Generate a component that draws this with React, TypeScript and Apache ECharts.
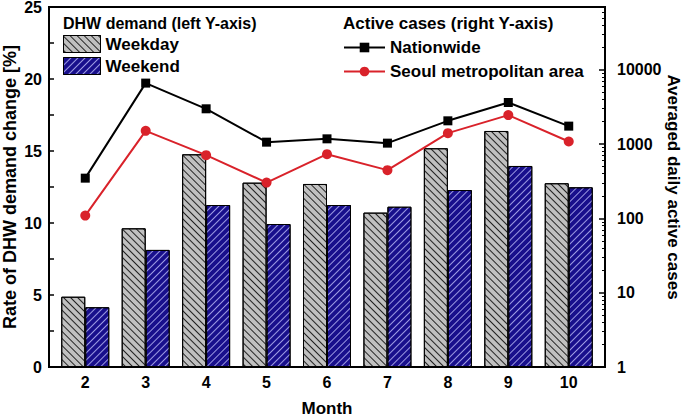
import React, { useEffect, useRef } from "react";
import * as echarts from "echarts";

const months = [2, 3, 4, 5, 6, 7, 8, 9, 10];
const weekday = [4.88, 9.63, 14.77, 12.8, 12.71, 10.72, 15.19, 16.39, 12.76];
const weekend = [4.15, 8.13, 11.25, 9.93, 11.25, 11.13, 12.29, 13.96, 12.48];
const nationwide = [348, 6620, 2985, 1062, 1177, 1030, 2057, 3630, 1745];
const seoul = [109, 1508, 710, 303, 732, 446, 1404, 2455, 1083];

const FONT = "'Liberation Sans', Arial, sans-serif";

export default function App() {
  const ref = useRef<HTMLDivElement>(null);
  useEffect(() => {
    if (!ref.current) return;
    const chart = echarts.init(ref.current, null, { renderer: "svg" });
    const labelStyle = { color: "#000", fontWeight: "bold" as const, fontSize: 16, fontFamily: FONT };
    const option: any = {
      animation: false,
      backgroundColor: "#fff",
      textStyle: { fontFamily: FONT },
      grid: {
        left: 49,
        right: 83,
        top: 7,
        bottom: 51,
        show: true,
        borderColor: "#000",
        borderWidth: 2,
        containLabel: false,
        outerBoundsMode: "none",
      },
      xAxis: {
        type: "value",
        min: 1.4,
        max: 10.6,
        splitNumber: 9,
        name: "Month",
        nameLocation: "middle",
        nameGap: 33,
        nameMoveOverlap: false,
        nameTextStyle: { color: "#000", fontWeight: "bold", fontSize: 17, fontFamily: FONT },
        axisLine: { lineStyle: { color: "#000", width: 2 } },
        axisTick: { show: false },
        splitLine: { show: false },
        axisLabel: {
          ...labelStyle,
          margin: 7,
          showMinLabel: false,
          showMaxLabel: false,
          formatter: (v: number) => (Number.isInteger(v) ? String(v) : ""),
        },
      },
      yAxis: [
        {
          type: "value",
          min: 0,
          max: 25,
          interval: 5,
          name: "Rate of DHW demand change [%]",
          nameLocation: "middle",
          nameGap: 30,
          nameMoveOverlap: false,
          nameTextStyle: { color: "#000", fontWeight: "bold", fontSize: 18, fontFamily: FONT },
          axisLine: { show: true, lineStyle: { color: "#000", width: 2 } },
          axisTick: { show: true, inside: true, length: 5, lineStyle: { color: "#000", width: 1.5 } },
          minorTick: { show: true, splitNumber: 2, length: 5, lineStyle: { color: "#000", width: 1.5 } },
          splitLine: { show: false },
          axisLabel: { ...labelStyle, margin: 7 },
        },
        {
          type: "log",
          logBase: 10,
          min: 1,
          max: 70000,
          position: "right",
          name: "Averaged daily active cases",
          nameLocation: "middle",
          nameRotate: -90,
          nameGap: 60,
          nameMoveOverlap: false,
          nameTextStyle: { color: "#000", fontWeight: "bold", fontSize: 17, fontFamily: FONT },
          axisLine: { show: true, lineStyle: { color: "#000", width: 2 } },
          axisTick: { show: true, inside: true, length: 6, lineStyle: { color: "#000", width: 1.5 } },
          minorTick: { show: true, splitNumber: 9, length: 3, lineStyle: { color: "#000", width: 1 } },
          splitLine: { show: false },
          axisLabel: {
            ...labelStyle,
            margin: 12,
            showMaxLabel: false,
            formatter: (v: number) => {
              const l = Math.log10(v);
              return Math.abs(l - Math.round(l)) < 1e-6 ? String(Math.round(v)) : "";
            },
          },
        },
      ],
      legend: [
        {
          left: 63,
          top: 35,
          padding: 0,
          orient: "vertical",
          icon: "rect",
          itemWidth: 37,
          itemHeight: 17,
          itemGap: 4,
          data: ["Weekday", "Weekend"],
          itemStyle: { borderColor: "#000", borderWidth: 1 },
          textStyle: { color: "#000", fontWeight: "bold", fontSize: 17, fontFamily: FONT },
        },
        {
          left: 343,
          top: 39,
          padding: 0,
          orient: "vertical",
          itemWidth: 41,
          itemHeight: 12,
          itemGap: 7,
          data: ["Nationwide", "Seoul metropolitan area"],
          textStyle: { color: "#000", fontWeight: "bold", fontSize: 17, fontFamily: FONT },
        },
      ],
      graphic: [
        {
          type: "text",
          left: 63,
          top: 15,
          style: { text: "DHW demand (left Y-axis)", fill: "#000", font: `bold 16px ${FONT}` },
        },
        {
          type: "text",
          left: 343,
          top: 15,
          style: { text: "Active cases (right Y-axis)", fill: "#000", font: `bold 17px ${FONT}` },
        },
      ],
      series: [
        {
          name: "Weekday",
          type: "bar",
          xAxisIndex: 0,
          yAxisIndex: 0,
          barWidth: 24,
          barGap: "0%",
          data: months.map((m, i) => [m, weekday[i]]),
          itemStyle: {
            color: "#c0c0c0",
            borderColor: "#000",
            borderWidth: 1,
            decal: { symbol: "rect", symbolSize: 1, dashArrayX: [1, 0], dashArrayY: [1, 4], rotation: Math.PI / 4, color: "#222" },
          },
        },
        {
          name: "Weekend",
          type: "bar",
          xAxisIndex: 0,
          yAxisIndex: 0,
          barWidth: 24,
          barGap: "0%",
          data: months.map((m, i) => [m, weekend[i]]),
          itemStyle: {
            color: "#180f8c",
            borderColor: "#000",
            borderWidth: 1,
            decal: { symbol: "rect", symbolSize: 1, dashArrayX: [1, 0], dashArrayY: [1, 4], rotation: -Math.PI / 4, color: "rgba(200,200,255,0.75)" },
          },
        },
        {
          name: "Nationwide",
          type: "line",
          xAxisIndex: 0,
          yAxisIndex: 1,
          data: months.map((m, i) => [m, nationwide[i]]),
          symbol: "rect",
          symbolSize: 9,
          z: 5,
          itemStyle: { color: "#000" },
          lineStyle: { color: "#000", width: 2 },
        },
        {
          name: "Seoul metropolitan area",
          type: "line",
          xAxisIndex: 0,
          yAxisIndex: 1,
          data: months.map((m, i) => [m, seoul[i]]),
          symbol: "circle",
          symbolSize: 10,
          z: 5,
          itemStyle: { color: "#d9222a" },
          lineStyle: { color: "#d9222a", width: 2 },
        },
      ],
    };
    chart.setOption(option);
    return () => chart.dispose();
  }, []);
  return (
    <div
      ref={ref}
      style={{ position: "fixed", left: 0, top: 0, width: 688, height: 418, background: "#fff" }}
    />
  );
}
